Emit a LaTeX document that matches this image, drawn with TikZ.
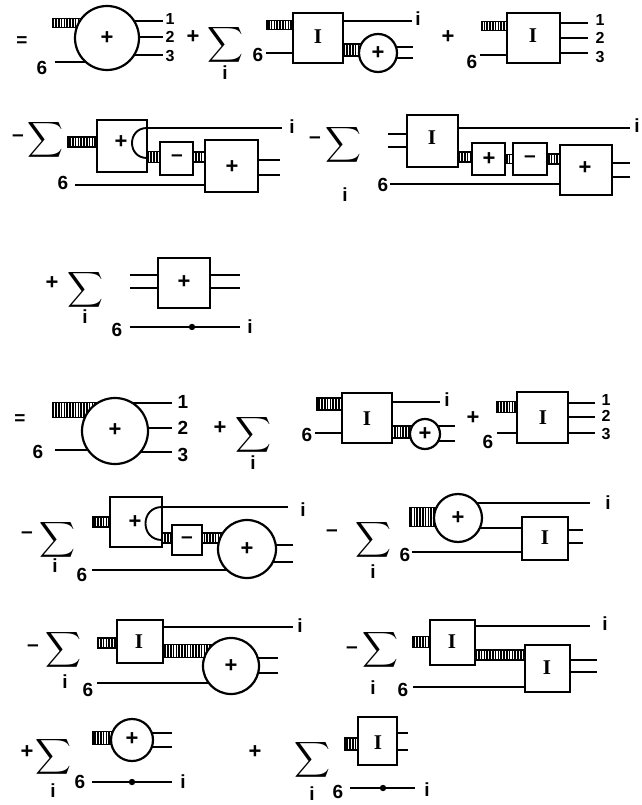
\documentclass[tikz,border=0pt]{standalone}
\usepackage{amsmath}
\usepackage{fontspec}
\setmainfont{Liberation Sans}
\newfontfamily\serifI{Liberation Serif}
\usetikzlibrary{patterns.meta}
\tikzset{
  ln/.style={line width=1.9pt},
  shp/.style={line width=2.2pt, fill=white},
  hatchst/.style={line width=1.3pt, pattern={Lines[angle=90,distance=2.8pt,line width=1.7pt]}},
  lbl/.style={font=\bfseries\fontsize{19}{19}\selectfont, inner sep=0pt},
  mn/.style={font=\bfseries\fontsize{21}{21}\selectfont, inner sep=0pt},
  sml/.style={font=\bfseries\fontsize{16}{16}\selectfont, inner sep=0pt},
  sig/.style={font=\fontsize{23}{23}\selectfont, inner sep=0pt},
  Ig/.style={font=\serifI\bfseries\fontsize{21}{21}\selectfont, inner sep=0pt},
  pl/.style={font=\bfseries\fontsize{22}{22}\selectfont, inner sep=0pt},
}
\newcommand\hb[4]{\draw[hatchst] (#1,#3-#4) rectangle (#2,#3+#4);}
\newcommand\bxx[4]{\draw[shp] (#1,#2) rectangle (#3,#4);}
\newcommand\crc[3]{\draw[shp] (#1,#2) circle[radius=#3];}
\newcommand\sg[3]{\node[sig] (#1) at (#2,#3) {$\displaystyle\sum$};}
\begin{document}
\begin{tikzpicture}[x=1pt,y=-1pt]
\useasboundingbox (0,0) rectangle (641,805);
% ================= Row 1
\node[lbl] (eq1) at (22,42) {=};
\hb{53}{100}{23}{4.5}
\draw[ln] (55,62)--(107,62);
\draw[ln] (107,21)--(163,21) (107,37)--(163,37) (107,55)--(163,55);
\crc{107}{38}{32}
\node[pl] (p1) at (107,38) {+};
\node[sml] (l1a) at (170,19) {1};
\node[sml] (l1b) at (170,37) {2};
\node[sml] (l1c) at (170,56) {3};
\node[lbl] (s1a) at (42,68) {6};
\node[pl] (p2) at (193,37) {+};
\sg{S1}{225}{45}
\node[lbl] (i1) at (225,73) {i};
\node[lbl] (s1b) at (258,55) {6};
\draw[ln] (266,53)--(293,53);
\hb{267}{293}{25}{4.5}
\draw[ln] (343,21)--(412,21);
\node[lbl] (i2) at (418,19) {i};
\hb{343}{370}{50}{6}
\draw[ln] (378,47)--(413,47) (378,58)--(413,58);
\bxx{293}{13}{343}{63}
\node[Ig] (I1) at (318,37) {I};
\crc{378}{53}{19}
\node[pl] (p3) at (378,53) {+};
\node[pl] (p4) at (448,37) {+};
\hb{482}{507}{26}{4.5}
\node[lbl] (s1c) at (472,62) {6};
\draw[ln] (480,55)--(507,55);
\draw[ln] (560,23)--(588,23) (560,38)--(588,38) (560,53)--(588,53);
\bxx{507}{13}{560}{63}
\node[Ig] (I2) at (533,36) {I};
\node[sml] (l2a) at (600,20) {1};
\node[sml] (l2b) at (600,38) {2};
\node[sml] (l2c) at (600,57) {3};
% ================= Row 2 left
\node[mn] (m1) at (18,138) {–};
\sg{S2}{45}{140}
\hb{68}{97}{142}{5}
\hb{147}{160}{157}{5.5}
\hb{193}{205}{157}{5}
\draw[ln] (75,185)--(205,185);
\draw[ln] (258,160)--(280,160) (258,175)--(280,175);
\bxx{97}{120}{147}{172}
\node[pl] (p5) at (121,142) {+};
\draw[ln] (147,128) .. controls (127,128) and (127,158) .. (147,158);
\draw[ln] (147,128)--(282,128);
\node[lbl] (i3) at (292,127) {i};
\bxx{160}{142}{193}{175}
\node[mn] (m2) at (177,158) {–};
\bxx{205}{140}{258}{192}
\node[pl] (p6) at (232,167) {+};
\node[lbl] (s2a) at (63,183) {6};
% ================= Row 2 right
\node[mn] (m3) at (315,140) {–};
\sg{S3}{343}{145}
\node[lbl] (i4) at (345,195) {i};
\draw[ln] (388,134)--(407,134) (388,147)--(407,147);
\draw[ln] (458,128)--(630,128);
\node[lbl] (i5) at (637,126) {i};
\hb{458}{472}{157}{5}
\hb{505}{513}{159}{4.5}
\hb{547}{560}{159}{5}
\draw[ln] (612,163)--(630,163) (612,177)--(630,177);
\draw[ln] (390,184)--(560,184);
\bxx{407}{115}{458}{167}
\node[Ig] (I3) at (432,138) {I};
\bxx{472}{143}{505}{175}
\node[pl] (p7) at (489,159) {+};
\bxx{513}{143}{547}{175}
\node[mn] (m4) at (530,159) {–};
\bxx{560}{145}{612}{195}
\node[pl] (p8) at (585,168) {+};
\node[lbl] (s2b) at (383,185) {6};
% ================= Row 3
\node[pl] (p9) at (52,283) {+};
\sg{S4}{85}{290}
\node[lbl] (i6) at (85,317) {i};
\draw[ln] (130,275)--(158,275) (130,288)--(158,288);
\draw[ln] (210,275)--(240,275) (210,288)--(240,288);
\bxx{158}{258}{210}{308}
\node[pl] (p10) at (184,282) {+};
\node[lbl] (s3) at (117,330) {6};
\draw[ln] (130,327)--(240,327);
\fill (192,327) circle[radius=3.2];
\node[lbl] (i7) at (250,327) {i};
% ================= Row 4
\node[lbl] (eq2) at (20,420) {=};
\hb{53}{115}{410}{7.5}
\draw[ln] (115,403)--(172,403) (115,428)--(172,428) (115,452)--(172,452);
\draw[ln] (55,450)--(115,450);
\crc{115}{431}{33}
\node[pl] (p11) at (115,430) {+};
\node[lbl] (s4a) at (38,452) {6};
\node[lbl] (l3a) at (183,402) {1};
\node[lbl] (l3b) at (183,428) {2};
\node[lbl] (l3c) at (183,455) {3};
\node[pl] (p12) at (220,428) {+};
\sg{S5}{253}{435}
\node[lbl] (i8) at (253,463) {i};
\node[lbl] (s4b) at (307,435) {6};
\draw[ln] (315,433)--(342,433);
\hb{317}{342}{404}{6}
\draw[ln] (392,402)--(440,402);
\node[lbl] (i9) at (447,400) {i};
\hb{392}{420}{432}{6}
\draw[ln] (425,426)--(455,426) (425,441)--(455,441);
\bxx{342}{393}{392}{443}
\node[Ig] (I4) at (367,419) {I};
\crc{425}{434}{15}
\node[pl] (p13) at (425,434) {+};
\node[pl] (p14) at (473,418) {+};
\node[lbl] (s4c) at (488,442) {6};
\draw[ln] (497,433)--(517,433);
\hb{497}{517}{407}{5.5}
\draw[ln] (568,403)--(595,403) (568,417)--(595,417) (568,433)--(595,433);
\bxx{517}{392}{568}{443}
\node[Ig] (I5) at (543,418) {I};
\node[sml] (l4a) at (606,400) {1};
\node[sml] (l4b) at (606,416) {2};
\node[sml] (l4c) at (606,434) {3};
% ================= Row 5 left
\node[mn] (m5) at (27,535) {–};
\sg{S6}{57}{540}
\node[lbl] (i10) at (55,566) {i};
\hb{93}{110}{522}{5}
\hb{162}{172}{538}{5}
\hb{202}{225}{538}{5}
\draw[ln] (247,545)--(293,545) (247,562)--(293,562);
\draw[ln] (92,570)--(247,570);
\bxx{110}{497}{162}{547}
\node[pl] (p15) at (135,522) {+};
\draw[ln] (162,507) .. controls (140,507) and (140,540) .. (162,540);
\draw[ln] (162,507)--(288,507);
\node[lbl] (i11) at (303,510) {i};
\bxx{172}{525}{202}{555}
\node[mn] (m6) at (187,540) {–};
\crc{247}{549}{29}
\node[pl] (p16) at (247,549) {+};
\node[lbl] (s5a) at (82,575) {6};
% ================= Row 5 right
\node[mn] (m7) at (332,533) {–};
\sg{S7}{373}{540}
\node[lbl] (i12) at (373,572) {i};
\node[lbl] (s5b) at (405,555) {6};
\draw[ln] (412,552)--(522,552);
\hb{410}{450}{517}{9.5}
\draw[ln] (458,503)--(590,503);
\node[lbl] (i13) at (608,503) {i};
\draw[ln] (458,528)--(522,528);
\draw[ln] (568,530)--(583,530) (568,543)--(583,543);
\crc{458}{518}{24}
\node[pl] (p17) at (458,518) {+};
\bxx{522}{517}{568}{560}
\node[Ig] (I6) at (545,538) {I};
% ================= Row 6 left
\node[mn] (m8) at (33,648) {–};
\sg{S8}{63}{650}
\node[lbl] (i14) at (65,682) {i};
\node[lbl] (s6a) at (88,690) {6};
\draw[ln] (97,683)--(231,683);
\hb{98}{117}{643}{5}
\draw[ln] (163,627)--(293,627);
\node[lbl] (i15) at (300,626) {i};
\hb{163}{215}{651}{6.5}
\draw[ln] (231,658)--(278,658) (231,673)--(278,673);
\bxx{117}{620}{163}{663}
\node[Ig] (I7) at (139,642) {I};
\crc{231}{666}{28}
\node[pl] (p18) at (231,666) {+};
% ================= Row 6 right
\node[mn] (m9) at (352,650) {–};
\sg{S9}{380}{650}
\node[lbl] (i16) at (373,688) {i};
\node[lbl] (s6b) at (403,690) {6};
\draw[ln] (413,687)--(525,687);
\hb{413}{430}{642}{5.5}
\draw[ln] (475,626)--(590,626);
\node[lbl] (i17) at (605,624) {i};
\hb{475}{525}{655}{5}
\draw[ln] (570,660)--(597,660) (570,672)--(597,672);
\bxx{430}{620}{475}{665}
\node[Ig] (I8) at (452,642) {I};
\bxx{525}{645}{570}{692}
\node[Ig] (I9) at (547,668) {I};
% ================= Row 7
\node[pl] (p19) at (27,752) {+};
\sg{S10}{53}{757}
\node[lbl] (i18) at (53,791) {i};
\hb{93}{125}{738}{6.5}
\draw[ln] (132,733)--(172,733) (132,747)--(172,747);
\crc{132}{740}{21}
\node[pl] (p20) at (132,739) {+};
\node[lbl] (s7a) at (80,782) {6};
\draw[ln] (92,782)--(172,782);
\fill (132,782) circle[radius=3.2];
\node[lbl] (i19) at (183,782) {i};
\node[pl] (p21) at (255,752) {+};
\sg{S11}{312}{760}
\node[lbl] (i20) at (312,794) {i};
\hb{345}{358}{744}{6}
\draw[ln] (397,733)--(408,733) (397,750)--(408,750);
\bxx{358}{717}{397}{765}
\node[Ig] (I10) at (378,743) {I};
\node[lbl] (s7b) at (338,792) {6};
\draw[ln] (350,788)--(415,788);
\fill (383,788) circle[radius=3.2];
\node[lbl] (i21) at (427,790) {i};
\end{tikzpicture}
\end{document}
